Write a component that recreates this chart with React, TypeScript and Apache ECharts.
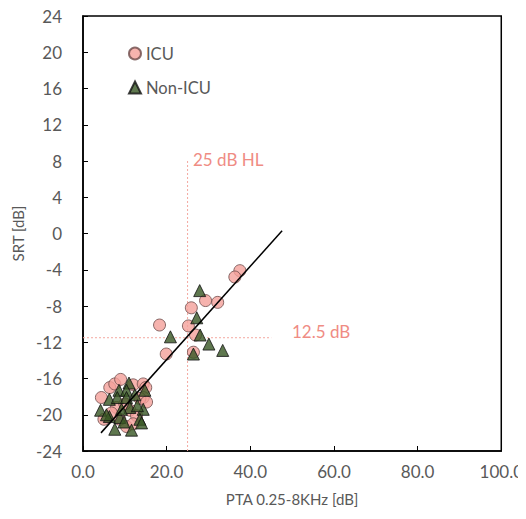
import React, { useEffect, useRef } from "react";
import * as echarts from "echarts";

const icuX = [37.5, 36.3, 29.3, 32.2, 25.9, 25.2, 26.9, 26.4, 18.3, 19.9,
  4.4, 6.4, 7.6, 9.0, 12.0, 14.4, 15.0, 14.4, 13.6, 15.2, 8.0, 5.0, 11.2, 12.8, 10.4, 12.0, 8.8, 10.0, 6.8];
const icuY = [-4.1, -4.8, -7.4, -7.6, -8.2, -10.2, -11.2, -13.1, -10.1, -13.3,
  -18.1, -17.0, -16.6, -16.1, -16.7, -16.6, -17.0, -18.1, -18.2, -18.6, -19.2, -20.5, -19.5, -20.1, -21.3, -21.0, -20.5, -18.8, -19.8];

const nonIcuX = [27.9, 27.2, 28.0, 30.1, 33.4, 26.4, 20.9,
  4.2, 6.3, 8.6, 11.0, 10.4, 14.8, 8.2, 10.4, 11.2, 14.4, 6.3, 8.8, 13.6, 14.0, 7.6, 11.6, 9.2, 12.4, 9.8, 13.0, 5.6];
const nonIcuY = [-6.3, -9.3, -11.2, -12.2, -12.9, -13.3, -11.4,
  -19.5, -18.3, -17.3, -16.5, -17.3, -17.3, -18.1, -18.1, -19.2, -19.4, -20.2, -20.3, -20.5, -20.9, -21.6, -21.7, -19.4, -17.8, -20.8, -19.0, -20.0];

const trendX = [4.3, 47.6];
const trendY = [-22.0, 0.3];

const hlX = [25, 25];
const hlY = [-24, 8];
const snrX = [0, 45];
const snrY = [-11.5, -11.5];

const xTicks = { min: 0, max: 100, interval: 20 };
const yTicks = { min: -24, max: 24, interval: 4 };

const zip = (xs: number[], ys: number[]) => xs.map((x, i) => [x, ys[i]]);

const FONT = "Lato";
const GREY = "#595959";
const REF = "#F4A8A0";
const REF_TEXT = "#EF8C84";

export default function App() {
  const ref = useRef<HTMLDivElement>(null);
  useEffect(() => {
    if (!ref.current) return;
    const chart = echarts.init(ref.current, null, { renderer: "svg" });
    chart.setOption({
      animation: false,
      backgroundColor: "#fff",
      grid: {
        left: 83, right: 23, top: 16, bottom: 68,
        show: true, borderColor: "#000", borderWidth: 1.5,
      },
      legend: {
        orient: "vertical",
        left: 123, top: 40,
        itemGap: 17,
        itemWidth: 12, itemHeight: 12,
        textStyle: { fontFamily: FONT, fontSize: 16.5, color: GREY },
        data: ["ICU", "Non-ICU"],
      },
      xAxis: {
        type: "value",
        ...xTicks,
        axisLine: { show: true, onZero: false, lineStyle: { color: "#000", width: 1.5 } },
        axisTick: { show: true, inside: true, length: 5, lineStyle: { color: "#000" } },
        splitLine: { show: false },
        axisLabel: {
          fontFamily: FONT, fontSize: 17, color: GREY, margin: 12,
          formatter: (v: number) => v.toFixed(1),
        },
        name: "PTA 0.25-8KHz [dB]",
        nameLocation: "middle",
        nameGap: 40,
        nameTextStyle: { fontFamily: FONT, fontSize: 15, color: GREY },
      },
      yAxis: {
        type: "value",
        ...yTicks,
        axisLine: { show: true, onZero: false, lineStyle: { color: "#000", width: 1.5 } },
        axisTick: { show: true, inside: true, length: 5, lineStyle: { color: "#000" } },
        splitLine: { show: false },
        axisLabel: { fontFamily: FONT, fontSize: 17, color: GREY, margin: 21 },
        name: "SRT [dB]",
        nameLocation: "middle",
        nameGap: 44,
        nameTextStyle: { fontFamily: FONT, fontSize: 15, color: GREY },
      },
      series: [
        {
          name: "hl",
          type: "line",
          data: zip(hlX, hlY),
          symbol: "none",
          lineStyle: { color: REF, width: 1, type: [2, 2] },
          silent: true,
          z: 1,
        },
        {
          name: "snr",
          type: "line",
          data: zip(snrX, snrY),
          symbol: "none",
          lineStyle: { color: REF, width: 1, type: [2, 2] },
          silent: true,
          z: 1,
        },
        {
          name: "ICU",
          type: "scatter",
          data: zip(icuX, icuY),
          symbol: "circle",
          symbolSize: 12,
          itemStyle: { color: "#F4A09A", borderColor: "#6b4a48", borderWidth: 1 },
          z: 3,
        },
        {
          name: "Non-ICU",
          type: "scatter",
          data: zip(nonIcuX, nonIcuY),
          symbol: "triangle",
          symbolSize: 12,
          itemStyle: { color: "#375623", borderColor: "#111", borderWidth: 1 },
          z: 4,
        },
        {
          name: "trend",
          type: "line",
          data: zip(trendX, trendY),
          symbol: "none",
          lineStyle: { color: "#000", width: 1.5 },
          z: 5,
        },
      ],
      graphic: [
        {
          type: "text", left: 193, top: 151,
          style: { text: "25 dB HL", fill: REF_TEXT, fontFamily: FONT, fontSize: 17 },
        },
        {
          type: "text", left: 292, top: 323,
          style: { text: "12.5 dB", fill: REF_TEXT, fontFamily: FONT, fontSize: 17 },
        },
      ],
    });
    return () => chart.dispose();
  }, []);
  return <div ref={ref} style={{ width: 526, height: 519, margin: -8 }} />;
}
